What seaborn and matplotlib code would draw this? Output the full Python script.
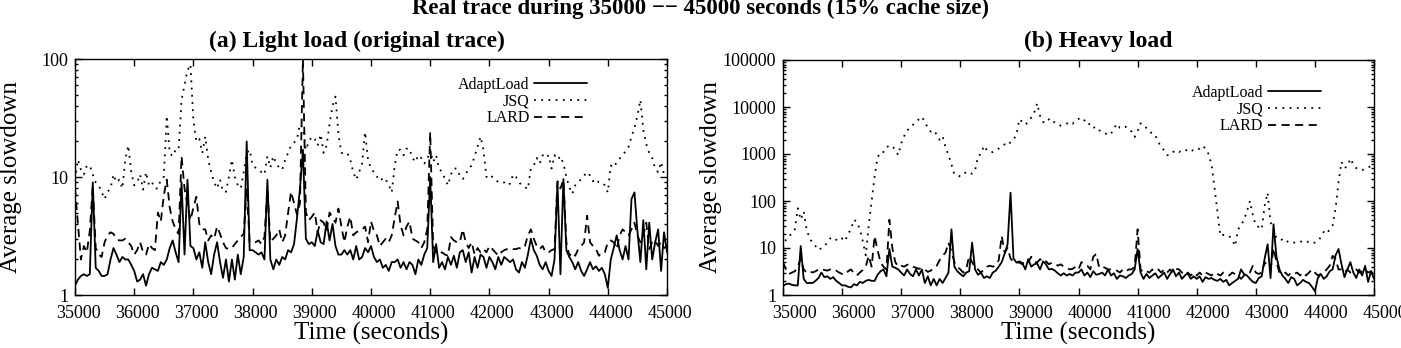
import matplotlib
matplotlib.use("Agg")
import matplotlib.pyplot as plt
import seaborn as sns
from matplotlib import ticker
from matplotlib.transforms import ScaledTranslation

# ----------------------------------------------
# data: average slowdown sampled every 50 s (35000 .. 45000)
TIME = list(range(35000, 45001, 50))

LIGHT_ADAPTLOAD = [
    1.2, 1.35, 1.45, 1.5, 1.45, 1.5, 9.0, 1.7, 1.6, 1.45,
    1.45, 1.5, 2.0, 2.5, 2.2, 1.9, 2.1, 2.0, 2.0, 1.8,
    1.6, 1.3, 1.35, 1.5, 1.2, 1.5, 1.7, 1.65, 1.6, 1.9,
    1.8, 2.0, 2.5, 2.9, 2.3, 1.9, 9.0, 2.2, 9.5, 2.6,
    2.5, 2.0, 2.3, 1.7, 2.8, 1.9, 1.5, 2.2, 2.8, 1.9,
    1.4, 2.0, 1.3, 2.0, 1.35, 2.2, 1.5, 2.1, 20, 2.4,
    2.4, 2.3, 2.2, 2.3, 2.0, 9.5, 2.0, 1.65, 2.0, 1.8,
    2.1, 2.0, 2.4, 2.3, 2.7, 4.5, 8.0, 17, 3.0, 2.7,
    2.8, 2.6, 3.5, 2.8, 2.7, 4.2, 2.9, 4.0, 2.6, 2.2,
    2.2, 2.4, 2.2, 2.4, 2.0, 2.6, 2.0, 2.1, 2.5, 2.3,
    2.6, 2.1, 1.9, 2.0, 1.7, 1.8, 1.6, 1.9, 1.9, 2.0,
    1.7, 1.9, 1.65, 1.9, 1.8, 1.5, 2.0, 1.8, 2.2, 2.5,
    10, 1.9, 2.7, 1.7, 1.9, 1.65, 2.1, 1.8, 2.15, 1.7,
    2.3, 2.4, 1.9, 2.3, 1.55, 2.1, 1.7, 2.2, 2.1, 1.7,
    2.1, 1.9, 1.65, 2.1, 1.8, 2.1, 2.0, 1.9, 2.0, 1.65,
    1.55, 1.9, 1.7, 2.2, 3.0, 2.4, 2.15, 1.8, 1.65, 1.9,
    1.6, 1.45, 2.0, 9.0, 1.5, 9.6, 2.4, 2.1, 1.9, 1.65,
    1.9, 1.6, 1.45, 1.65, 1.9, 1.65, 1.75, 1.6, 1.7, 1.5,
    1.15, 2.0, 2.5, 3.2, 2.4, 2.0, 2.6, 2.0, 6.5, 7.4,
    3.5, 1.9, 4.3, 1.65, 4.1, 2.0, 2.8, 3.6, 1.6, 3.4,
    2.3,
]

LIGHT_JSQ = [
    9.5, 14, 11.5, 10.5, 12.5, 12.5, 10.5, 9.0, 8.5, 7.5,
    6.5, 7.5, 8.0, 10.5, 9.0, 9.5, 8.0, 14, 18.5, 11,
    8.5, 9.0, 10.5, 7.8, 11, 8.5, 9.0, 8.0, 8.0, 9.5,
    10, 33, 16, 15, 17, 17, 45, 60, 80, 90,
    30, 20, 21, 16, 22, 14, 11, 9, 8, 9.5,
    7.5, 7.5, 10, 14, 10, 8.5, 8.0, 11, 16, 17,
    12.5, 12, 11.5, 11, 10.5, 15, 12, 15, 13, 12,
    11.5, 14, 16, 18.5, 19.5, 21, 28, 26, 17, 20,
    22, 21, 18.5, 23, 16, 18.5, 28, 40, 48, 23,
    16, 16, 16, 14, 11, 9.5, 11, 13, 24, 14,
    11.8, 11, 10, 10.3, 9.2, 9.5, 8.6, 7.4, 12.5, 17,
    17, 15.3, 17.4, 17.4, 14.5, 13.4, 15.3, 14.5, 13, 14,
    17, 13.4, 15.3, 11.8, 11, 9.6, 8.5, 10.5, 11.8, 11.8,
    10.3, 9.6, 10.5, 11.8, 12.5, 15, 18, 22, 17, 10,
    10.5, 10, 9.6, 9.0, 9.0, 9.0, 8.5, 8.8, 10.5, 10,
    9.0, 8.5, 8.2, 7.9, 11.8, 12.5, 14.5, 13, 15.3, 14.5,
    15.3, 11.8, 15.3, 14, 15, 13, 10, 8.2, 7.2, 8.5,
    9.0, 9.6, 10.3, 11, 10.3, 9.2, 9.6, 9.0, 9.0, 8.5,
    7.4, 12.5, 12, 13.4, 14.3, 15.3, 16.5, 18, 22, 26,
    33, 45, 25, 19, 16, 14.5, 11.8, 11, 13.4, 10.5,
    10,
]

LIGHT_LARD = [
    8.0, 4.0, 2.0, 2.6, 2.3, 3.5, 8.5, 2.5, 2.2, 2.1,
    2.8, 3.2, 3.4, 3.3, 3.0, 2.9, 2.9, 3.0, 2.8, 2.6,
    2.2, 2.4, 2.8, 2.3, 2.2, 2.7, 2.5, 2.4, 5.0, 4.2,
    7.0, 9.5, 5.5, 4.2, 3.6, 3.3, 15, 8.0, 5.8, 4.3,
    5.5, 6.8, 4.0, 3.6, 3.6, 2.9, 3.2, 3.0, 3.8, 3.3,
    2.8, 2.5, 2.45, 2.5, 2.7, 2.9, 3.1, 3.3, 8.0, 2.8,
    2.8, 2.8, 2.9, 2.7, 3.1, 8.0, 2.8, 3.0, 3.2, 3.6,
    2.8, 3.2, 5.0, 7.5, 6.0, 4.8, 6.0, 100, 5.0, 4.3,
    4.6, 5.0, 3.4, 4.3, 4.1, 3.5, 5.0, 4.5, 4.1, 5.4,
    3.8, 2.8, 3.8, 4.6, 3.2, 3.4, 3.5, 3.6, 3.8, 2.8,
    4.2, 3.5, 3.2, 2.6, 2.8, 3.0, 2.8, 3.2, 4.5, 6.2,
    3.9, 3.2, 3.8, 4.2, 3.0, 2.9, 2.8, 2.5, 2.8, 3.6,
    24, 2.6, 2.3, 2.2, 2.3, 2.2, 2.15, 3.1, 2.9, 2.8,
    2.8, 3.6, 2.8, 2.5, 2.8, 2.2, 2.5, 2.3, 2.45, 2.3,
    2.6, 2.45, 2.3, 2.15, 2.3, 2.4, 2.45, 2.5, 2.45, 2.45,
    2.5, 2.45, 2.6, 3.2, 3.6, 3.0, 2.6, 2.45, 2.6, 2.3,
    2.3, 2.4, 2.45, 9.2, 8.0, 9.5, 2.8, 2.15, 2.3, 2.15,
    2.45, 2.6, 2.8, 4.7, 2.8, 2.6, 2.45, 2.15, 2.3, 2.3,
    2.8, 2.9, 2.8, 2.45, 3.2, 3.6, 3.4, 3.2, 3.6, 4.1,
    3.2, 2.8, 3.2, 4.1, 2.45, 2.8, 2.9, 2.6, 2.8, 2.5,
    2.6,
]

HEAVY_ADAPTLOAD = [
    1.56, 1.7, 1.75, 1.65, 1.6, 1.6, 11, 2.2, 1.8, 1.8,
    1.8, 2.0, 2.3, 3.0, 2.4, 2.5, 2.2, 2.4, 2.0, 1.8,
    1.6, 1.6, 1.5, 1.45, 1.7, 1.6, 1.9, 1.8, 2.0, 2.1,
    2.0, 2.0, 2.7, 3.2, 3.5, 2.5, 9.5, 4.0, 3.8, 3.5,
    3.0, 2.6, 3.5, 2.8, 2.5, 3.5, 2.6, 3.5, 1.8, 2.5,
    1.6, 2.2, 1.6, 2.2, 1.8, 2.3, 3.0, 25, 4.0, 3.2,
    2.8, 2.5, 3.0, 3.2, 13, 3.5, 2.7, 3.0, 2.3, 2.5,
    2.3, 3.0, 3.3, 4.0, 5.0, 7.5, 12, 150, 6.0, 4.9,
    5.2, 4.8, 3.5, 5.8, 4.0, 4.5, 4.7, 3.5, 5.2, 4.5,
    3.5, 3.6, 3.3, 2.9, 2.6, 2.9, 2.6, 2.8, 2.6, 3.0,
    3.0, 3.5, 2.6, 3.0, 2.4, 3.2, 2.7, 2.8, 3.0, 2.6,
    3.5, 2.6, 2.9, 2.2, 2.6, 2.5, 2.3, 2.6, 2.8, 3.5,
    9.5, 3.0, 2.2, 2.8, 2.3, 2.6, 2.9, 2.3, 2.6, 3.0,
    2.2, 2.8, 3.5, 2.5, 3.0, 2.2, 2.6, 2.9, 2.2, 2.5,
    2.2, 2.5, 1.9, 2.4, 2.2, 2.3, 2.1, 2.0, 2.2, 1.9,
    2.1, 1.6, 1.8, 2.0, 2.2, 3.5, 2.8, 2.6, 2.2, 1.9,
    1.8, 2.3, 2.5, 6.0, 12, 2.3, 32, 6.5, 3.5, 2.6,
    2.2, 1.8, 2.4, 2.2, 1.6, 1.8, 2.1, 1.9, 1.8, 1.5,
    1.2, 2.3, 2.8, 2.2, 2.5, 3.2, 3.5, 7.0, 9.5, 4.5,
    2.4, 3.5, 5.0, 3.0, 2.3, 3.5, 2.6, 4.2, 1.9, 3.2,
    2.2,
]

HEAVY_JSQ = [
    10, 15, 18, 20, 25, 70, 40, 60, 25, 16,
    13, 11, 9, 10, 11, 13, 16, 17, 15, 14,
    16, 14, 20, 25, 40, 36, 25, 14, 7, 30,
    100, 330, 850, 1100, 1100, 1400, 1500, 1500, 1200, 950,
    1700, 2400, 3200, 3500, 4200, 4800, 5500, 6200, 4800, 3600,
    3000, 3200, 2600, 2000, 2400, 1400, 950, 600, 370, 360,
    330, 360, 420, 400, 380, 450, 900, 1000, 1500, 1200,
    1100, 1100, 1200, 1300, 1500, 1600, 1500, 1800, 2000, 2600,
    5500, 4800, 4200, 4800, 6000, 7500, 12000, 6500, 4800, 4600,
    5500, 4600, 4800, 4400, 4000, 4200, 4400, 4800, 4400, 5200,
    5600, 6000, 5200, 4200, 4400, 3600, 3800, 3200, 3000, 2800,
    2500, 2700, 3500, 4400, 3600, 3500, 3800, 3300, 3000, 2300,
    3000, 4500, 3800, 3600, 3200, 2600, 2500, 1800, 1400, 1200,
    950, 950, 1100, 1200, 1100, 1200, 1250, 1150, 1250, 1150,
    1250, 1300, 1500, 1300, 1000, 600, 200, 60, 18, 19,
    19, 18, 15, 11, 25, 30, 40, 60, 100, 50,
    30, 28, 25, 80, 150, 35, 25, 16, 15, 15,
    13, 14, 14, 13, 13, 14, 13, 13, 14, 13,
    13, 14, 17, 22, 20, 25, 30, 70, 250, 680,
    500, 550, 800, 600, 500, 480, 450, 500, 520, 550,
    600,
]

HEAVY_LARD = [
    5.0, 3.5, 2.8, 3.0, 3.2, 4.0, 6.0, 3.5, 3.0, 3.2,
    3.0, 3.2, 3.5, 3.6, 3.4, 3.3, 3.5, 3.2, 3.3, 3.0,
    2.8, 2.7, 3.2, 3.5, 2.9, 2.6, 3.0, 3.4, 4.0, 6.8,
    4.0, 18, 9.0, 5.0, 4.0, 3.5, 40, 10, 5.0, 4.0,
    4.2, 4.0, 4.4, 4.5, 4.0, 3.8, 3.6, 3.8, 3.5, 3.1,
    3.3, 3.7, 4.2, 5.5, 6.8, 8.0, 13, 8.5, 5.0, 4.0,
    3.5, 3.0, 3.5, 6.8, 5.0, 3.8, 3.5, 3.0, 3.5, 4.0,
    4.2, 4.0, 4.3, 5.5, 18, 8.0, 10, 6.0, 5.0, 4.9,
    4.9, 4.5, 5.5, 5.0, 6.5, 5.2, 4.9, 5.8, 4.9, 5.2,
    4.5, 4.9, 4.7, 4.2, 4.5, 4.0, 3.8, 3.5, 3.6, 4.0,
    3.5, 5.0, 4.5, 4.2, 3.5, 6.5, 7.5, 3.8, 4.0, 3.8,
    3.5, 3.5, 3.5, 3.3, 3.0, 3.5, 3.2, 3.5, 3.5, 4.0,
    25, 3.5, 3.0, 3.2, 3.0, 3.5, 3.2, 3.5, 3.0, 3.5,
    3.0, 3.5, 3.0, 3.6, 3.5, 3.0, 2.6, 3.0, 2.6, 3.0,
    2.6, 3.0, 2.6, 3.0, 2.8, 2.6, 3.0, 2.8, 2.6, 3.0,
    2.8, 2.6, 3.0, 2.8, 2.6, 2.2, 2.6, 3.0, 3.0, 4.2,
    3.0, 2.8, 3.0, 5.0, 4.0, 3.5, 10, 5.0, 3.0, 2.8,
    3.0, 2.6, 3.0, 2.8, 3.0, 2.6, 3.0, 2.6, 3.0, 3.5,
    3.0, 2.6, 2.8, 3.0, 3.5, 4.2, 6.8, 5.8, 3.5, 3.5,
    3.0, 3.5, 3.0, 3.2, 3.5, 3.0, 3.2, 3.5, 3.0, 3.2,
    2.6,
]

SERIES_NAMES = ["AdaptLoad", "JSQ", "LARD"]
MAIN_TITLE = "Real trace during 35000 \u2212\u2212 45000 seconds (15% cache size)"
PANEL_TITLES = ["(a) Light load (original trace)", "(b) Heavy load"]
# ----------------------------------------------

sns.set_theme(style="ticks")
plt.rcParams.update({
    "font.family": ["Liberation Serif", "DejaVu Serif"],
    "axes.edgecolor": "black",
    "axes.linewidth": 1.0,
    "xtick.color": "black",
    "ytick.color": "black",
    "text.color": "black",
    "axes.labelcolor": "black",
})

W, H = 1401, 348
fig = plt.figure(figsize=(W / 100, H / 100), dpi=100)

# axes boxes in pixels: (left, top, right, bottom)
boxes = [(75, 59, 667, 295), (783, 60, 1374, 295)]
axes = []
for l, t, r, b in boxes:
    axes.append(fig.add_axes([l / W, 1 - b / H, (r - l) / W, (b - t) / H]))

styles = {
    "AdaptLoad": dict(linestyle="-", linewidth=1.3),
    "JSQ": dict(linestyle=(0, (1, 3)), linewidth=1.3),
    "LARD": dict(linestyle=(0, (4.5, 3)), linewidth=1.3),
}

panels = [
    (axes[0], [LIGHT_ADAPTLOAD, LIGHT_JSQ, LIGHT_LARD], 100, (0.865, 0.925)),
    (axes[1], [HEAVY_ADAPTLOAD, HEAVY_JSQ, HEAVY_LARD], 100000, (0.91, 0.895)),
]

for ax, series, ymax, leg_anchor in panels:
    for name, vals in zip(SERIES_NAMES, series):
        sns.lineplot(x=TIME, y=vals, ax=ax, color="black", estimator=None,
                     label=name, **styles[name])
    ax.set_yscale("log")
    ax.set_xlim(35000, 45000)
    ax.set_ylim(1, ymax)
    ax.xaxis.set_major_locator(ticker.MultipleLocator(1000))
    ax.yaxis.set_major_locator(ticker.LogLocator(base=10, numticks=10))
    ax.yaxis.set_minor_locator(ticker.LogLocator(base=10, subs=range(2, 10), numticks=20))
    ax.yaxis.set_major_formatter(ticker.FuncFormatter(lambda v, _: f"{v:g}"))
    ax.yaxis.set_minor_formatter(ticker.NullFormatter())
    ax.tick_params(which="both", direction="in", top=True, right=True, width=1.0)
    ax.tick_params(which="major", length=5, labelsize=13, pad=5)
    ax.tick_params(axis="x", which="major", pad=7.5)
    ax.tick_params(which="minor", length=2.5)
    for sp in ax.spines.values():
        sp.set_visible(True)
        sp.set_color("black")
    ax.set_xlabel("Time (seconds)", fontsize=18)
    ax.set_ylabel("Average slowdown", fontsize=18)
    ax.grid(False)
    ax.legend(loc="upper right", bbox_to_anchor=leg_anchor, frameon=False,
              markerfirst=False, fontsize=11.5, handlelength=3.3,
              handletextpad=0.3, labelspacing=0.05, borderaxespad=0,
              borderpad=0)

axes[0].xaxis.set_label_coords(0.5, -0.115)
axes[1].xaxis.set_label_coords(0.5, -0.115)
axes[0].yaxis.set_label_coords((22 - 75) / 592, 0.5)
axes[1].yaxis.set_label_coords((722 - 783) / 591, 0.5)

fig.text(0.5, 1 - 14 / H, MAIN_TITLE, ha="center", va="baseline",
         fontsize=16.5, fontweight="bold")
fig.text(505 / W, 1 - 47 / H, PANEL_TITLES[0], ha="right", va="baseline",
         fontsize=17, fontweight="bold")
fig.text(1173 / W, 1 - 47 / H, PANEL_TITLES[1], ha="right", va="baseline",
         fontsize=17, fontweight="bold")

# the x tick labels sit a little to the right of their ticks in the original
fig.canvas.draw()
for ax, dx in zip(axes, [3, 11]):
    shift = ScaledTranslation(dx / 100, 0, fig.dpi_scale_trans)
    for lab in ax.get_xticklabels():
        lab.set_transform(lab.get_transform() + shift)

fig.savefig("out.png", dpi=100)
